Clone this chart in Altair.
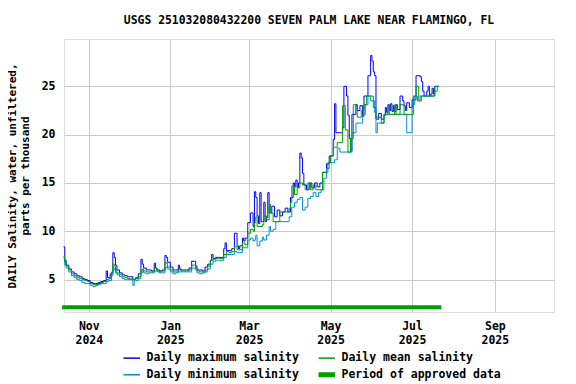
import altair as alt
import pandas as pd

START = "2024-10-13"

# ---- data (day offset from START, salinity ppt) ----
max_days = [0, 1, 2, 4, 6, 8, 10, 12, 14, 16, 18, 20, 22, 24, 26, 28, 30, 32, 33, 35, 37, 38, 39, 40, 42, 44, 46, 48, 50, 52,
            54, 56, 58, 59, 60, 62, 64, 66, 68, 69, 70, 72, 74, 76, 77, 78, 80, 82, 84, 86, 87, 88, 90, 92, 94, 96, 98, 99, 100,
            102, 104, 106, 108, 110, 111, 112, 114, 116, 118, 120, 121, 122, 124, 126, 128, 130, 131, 132, 134, 135, 136, 138,
            140, 142, 143, 144, 145, 146, 147, 148, 150, 151, 152, 153, 154, 156, 158, 160, 162, 164, 166, 168, 170, 172, 173,
            174, 175, 176, 177, 178, 179, 180, 182, 184, 186, 188, 190, 192, 194, 197, 199, 202, 203, 204, 209, 210, 212, 213,
            214, 215, 216, 219, 220, 222, 224, 225, 227, 228, 230, 231, 232, 233, 234, 236, 238, 240, 241, 242, 243, 244, 245,
            246, 247, 248, 249, 250, 252, 254, 255, 256, 257, 259, 261, 264, 267, 268, 269, 270, 272, 273, 274, 275, 276, 277,
            278, 281]
max_vals = [8.4, 7.0, 6.5, 6.1, 5.8, 5.6, 5.4, 5.3, 5.1, 5.0, 4.9, 4.7, 4.6, 4.6, 4.7, 4.8, 4.9, 5.9, 5.2, 5.6, 7.8, 7.3, 6.5,
            6.0, 5.7, 5.5, 5.4, 5.3, 5.3, 5.0, 5.2, 5.6, 7.1, 6.6, 6.2, 6.0, 6.0, 5.9, 6.7, 6.2, 6.0, 5.9, 6.0, 7.5, 7.3, 6.8,
            6.3, 6.0, 6.0, 6.5, 6.1, 6.0, 6.0, 6.0, 6.2, 6.9, 6.9, 6.4, 6.0, 6.0, 5.9, 6.3, 6.6, 7.0, 7.6, 7.2, 7.3, 7.3, 7.3,
            8.2, 8.8, 8.0, 8.0, 8.2, 9.8, 8.5, 8.2, 8.5, 9.3, 9.0, 9.3, 10.9, 11.9, 10.5, 14.1, 13.5, 11.6, 10.8, 14.0, 11.0,
            13.0, 11.0, 11.4, 14.0, 11.9, 12.6, 11.5, 12.2, 11.6, 12.0, 12.4, 12.0, 13.5, 15.0, 14.6, 15.3, 14.5, 15.0, 18.1,
            17.6, 16.0, 14.8, 14.3, 15.0, 14.5, 15.0, 14.6, 15.0, 16.1, 17.0, 17.8, 19.5, 23.2, 20.2, 20.7, 25.0, 24.0, 22.0,
            19.6, 18.3, 22.1, 23.1, 22.5, 23.0, 21.9, 24.0, 24.0, 26.1, 28.2, 27.6, 26.5, 26.1, 21.6, 22.2, 21.6, 22.0, 22.8,
            22.3, 23.1, 22.5, 23.2, 22.4, 23.0, 22.4, 23.1, 22.6, 24.0, 23.5, 23.0, 22.5, 23.3, 22.8, 23.6, 26.1, 26.0, 25.5,
            24.5, 24.0, 24.5, 25.0, 24.0, 24.2, 24.8, 24.2, 25.0, 25.0]

mean_days = [0, 1, 2, 4, 6, 8, 10, 12, 14, 16, 18, 20, 22, 24, 26, 28, 30, 32, 34, 36, 37, 38, 39, 40, 42, 44, 46, 48, 50, 52,
             54, 56, 58, 59, 60, 62, 64, 66, 68, 70, 72, 74, 76, 77, 78, 80, 82, 84, 86, 88, 90, 92, 94, 96, 98, 99, 100, 102,
             104, 106, 108, 110, 112, 114, 116, 118, 120, 122, 124, 126, 128, 130, 132, 134, 136, 138, 140, 142, 143, 144,
             145, 147, 149, 150, 152, 154, 155, 157, 162, 169, 170, 171, 173, 175, 177, 179, 181, 183, 185, 187, 189, 194,
             198, 200, 202, 205, 209, 211, 213, 215, 217, 220, 223, 225, 227, 232, 234, 238, 240, 243, 244, 248, 249, 252,
             255, 262, 264, 266, 268, 278, 281]
mean_vals = [7.4, 6.8, 6.4, 6.0, 5.6, 5.4, 5.2, 5.1, 5.0, 4.9, 4.8, 4.6, 4.5, 4.5, 4.6, 4.7, 4.8, 5.0, 5.1, 5.8, 6.6, 6.4,
             6.0, 5.7, 5.5, 5.3, 5.2, 5.1, 5.1, 5.0, 5.1, 5.3, 6.0, 6.1, 5.9, 5.8, 5.8, 5.8, 6.2, 5.9, 5.8, 5.9, 6.8, 6.7,
             6.3, 6.0, 5.8, 5.8, 6.0, 5.9, 5.9, 5.9, 6.0, 6.5, 6.5, 6.2, 5.9, 5.8, 5.8, 6.0, 6.4, 7.0, 7.1, 7.2, 7.2, 7.2,
             7.6, 7.9, 7.8, 7.9, 8.4, 8.1, 8.1, 8.8, 8.6, 9.8, 10.2, 10.0, 10.9, 11.5, 10.5, 10.5, 10.7, 11.6, 11.2, 12.8,
             11.9, 11.0, 12.0, 12.4, 13.0, 14.7, 13.8, 14.5, 15.0, 14.8, 14.3, 15.0, 14.3, 14.8, 14.3, 16.1, 17.1, 17.8,
             18.7, 19.2, 23.0, 20.5, 18.2, 19.6, 23.1, 21.8, 22.5, 23.1, 24.0, 22.8, 21.8, 21.2, 22.1, 23.1, 22.1, 23.1,
             22.1, 23.1, 22.1, 24.0, 25.0, 23.5, 24.0, 25.0, 25.0]

min_days = [0, 1, 2, 4, 6, 8, 10, 12, 14, 16, 18, 20, 22, 24, 26, 28, 30, 32, 34, 36, 37, 38, 39, 40, 42, 44, 46, 48, 50, 52,
            53, 54, 56, 58, 59, 60, 62, 64, 66, 68, 70, 72, 74, 76, 77, 78, 80, 82, 84, 86, 88, 90, 92, 94, 96, 98, 99, 100,
            102, 104, 106, 108, 110, 112, 114, 116, 118, 120, 122, 124, 126, 128, 130, 132, 134, 136, 138, 140, 142, 143,
            144, 145, 147, 149, 150, 152, 154, 155, 157, 159, 169, 171, 173, 175, 177, 179, 181, 183, 185, 187, 189, 191,
            193, 195, 197, 199, 203, 205, 207, 216, 219, 224, 226, 228, 230, 233, 234, 235, 240, 257, 261, 263, 265, 267,
            278, 280, 281]
min_vals = [7.2, 6.5, 6.2, 5.8, 5.4, 5.2, 5.0, 4.9, 4.7, 4.6, 4.6, 4.4, 4.3, 4.4, 4.5, 4.6, 4.6, 4.8, 4.9, 5.4, 6.2, 6.0,
            5.7, 5.5, 5.3, 5.1, 5.0, 5.0, 5.0, 4.4, 5.0, 4.9, 5.1, 5.7, 5.9, 5.7, 5.6, 5.7, 5.7, 5.9, 5.8, 5.7, 5.7, 6.2,
            6.3, 6.1, 5.8, 5.6, 5.7, 5.8, 5.8, 5.8, 5.8, 5.8, 6.2, 6.2, 6.0, 5.7, 5.6, 5.7, 5.8, 6.1, 6.6, 6.9, 7.0, 7.0,
            7.0, 7.3, 7.6, 7.6, 7.6, 7.9, 7.8, 7.8, 8.3, 8.3, 9.1, 9.3, 9.0, 9.1, 9.6, 8.5, 9.0, 9.4, 9.1, 9.6, 10.5, 10.0,
            10.2, 11.0, 11.5, 12.5, 13.0, 13.3, 13.5, 12.2, 12.5, 13.4, 13.6, 14.0, 13.6, 14.0, 14.3, 15.5, 16.5, 17.1,
            17.4, 18.6, 18.2, 20.2, 21.2, 22.1, 23.1, 24.0, 23.5, 22.3, 20.2, 21.2, 22.1, 20.2, 23.1, 24.0, 23.5, 24.0,
            24.5, 25.0, 25.0]

approved_start = ["2024-10-12"]
approved_end = ["2025-07-23"]

# legend entries, listed column by column (col 1: max, min; col 2: mean, approved)
series_names = ["Daily maximum salinity", "Daily minimum salinity", "Daily mean salinity", "Period of approved data"]
series_colors = ["#0000FF", "#0090E0", "#00A000", "#00A000"]

title_text = "USGS 251032080432200 SEVEN PALM LAKE NEAR FLAMINGO, FL"
y_title = ["DAILY Salinity, water, unfiltered,", "parts per thousand"]
y_ticks = [5, 10, 15, 20, 25]
x_ticks = [(2024, 11), (2025, 1), (2025, 3), (2025, 5), (2025, 7), (2025, 9)]


def frame(days, vals, name):
    dates = (pd.Timestamp(START) + pd.to_timedelta(days, unit="D")).strftime("%Y-%m-%d")
    return pd.DataFrame({"date": list(dates), "value": vals, "series": name})


FONT = "DejaVu Sans Mono"

legend = alt.Legend(
    title=None, orient="none", legendX=62, legendY=313, columns=2, columnPadding=9, rowPadding=0,
    labelFont=FONT, labelFontSize=11.5, labelFontWeight="bold", labelColor="black", labelOffset=9,
    symbolType="stroke", symbolSize=272, padding=0,
    symbolStrokeWidth=alt.ExprRef("datum.label == 'Period of approved data' ? 5 : 1.5"),
)
color = alt.Color("series:N", scale=alt.Scale(domain=series_names, range=series_colors), legend=legend)

x_scale = alt.Scale(type="utc", domain=[alt.DateTime(year=2024, month=10, date=13, hours=10, utc=True),
                                        alt.DateTime(year=2025, month=10, date=15, hours=7, utc=True)])
x_axis = alt.Axis(
    title=None, values=[alt.DateTime(year=y, month=m, date=1, utc=True) for y, m in x_ticks],
    labelExpr="[utcFormat(datum.value, '%b'), utcFormat(datum.value, '%Y')]",
    labelFont=FONT, labelFontSize=11.5, labelFontWeight="bold", labelColor="black", labelLineHeight=14,
    labelPadding=8, ticks=False, tickSize=0, domain=False, grid=True, gridColor="#CCCCCC", gridWidth=1,
)
y_scale = alt.Scale(domain=[1.65, 29.9], nice=False, zero=False)
y_axis = alt.Axis(
    title=y_title, values=y_ticks, titleFont=FONT, titleFontSize=11, titleFontWeight="bold", titleColor="black",
    titleLineHeight=13, titlePadding=11,
    labelFont=FONT, labelFontSize=11.5, labelFontWeight="bold", labelColor="black", labelPadding=9,
    ticks=False, tickSize=0, domain=False, grid=True, gridColor="#CCCCCC", gridWidth=1,
)


def line_layer(df):
    return alt.Chart(df).mark_line(interpolate="step-after", strokeWidth=1).encode(
        x=alt.X("date:T", scale=x_scale, axis=x_axis),
        y=alt.Y("value:Q", scale=y_scale, axis=y_axis),
        color=color,
    )


max_layer = line_layer(frame(max_days, max_vals, "Daily maximum salinity"))
min_layer = line_layer(frame(min_days, min_vals, "Daily minimum salinity"))
mean_layer = line_layer(frame(mean_days, mean_vals, "Daily mean salinity"))

approved_df = pd.DataFrame({"start": approved_start, "end": approved_end, "series": ["Period of approved data"]})
approved_layer = alt.Chart(approved_df).mark_rule(strokeWidth=4).encode(
    x=alt.X("start:T", scale=x_scale, axis=x_axis),
    x2="end:T",
    y=alt.YDatum(2.13, scale=y_scale, axis=y_axis),
    color=color,
)

chart = alt.layer(max_layer, min_layer, mean_layer, approved_layer).properties(
    width=490, height=273,
    title=alt.TitleParams(title_text, font=FONT, fontSize=11.4, fontWeight="bold", color="black",
                          anchor="middle", offset=13),
    autosize=alt.AutoSizeParams(type="none"),
    padding={"left": 56, "top": 31, "right": 14, "bottom": 72},
).configure_view(stroke="black", strokeWidth=1).configure(background="white")

chart.save("out.html", embed_options={"renderer": "svg", "actions": False})
